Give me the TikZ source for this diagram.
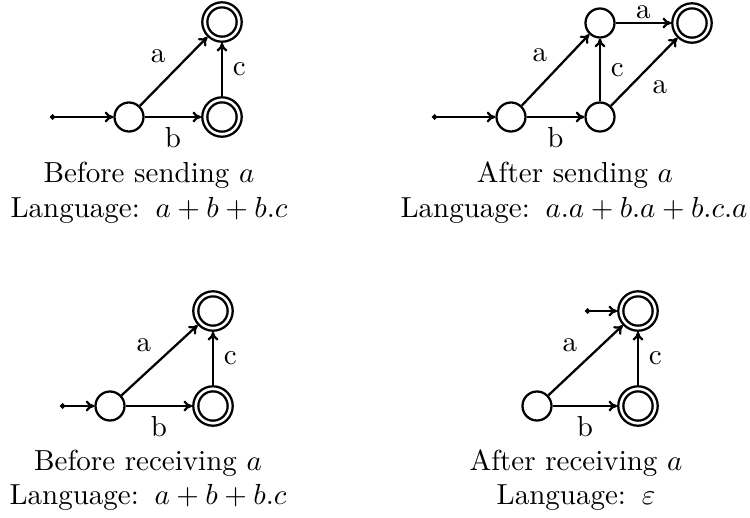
\documentclass[tikz,border=0pt]{standalone}
\usetikzlibrary{arrows.meta}
\begin{document}
\begin{tikzpicture}[x=0.3448pt, y=-0.3448pt,
  st/.style={circle, draw, line width=0.78pt, minimum size=10.0pt, inner sep=0pt},
  acc/.style={circle, draw, line width=0.78pt, minimum size=13.6pt, inner sep=0pt,
    path picture={\draw[line width=0.78pt] (path picture bounding box.center) circle[radius=5.05pt];}},
  tr/.style={line width=0.78pt, -{To[length=3pt,width=3.8pt]}},
  ini/.style={line width=0.78pt, {Circle[length=1.8pt]}-{To[length=3pt,width=3.8pt]}},
  dlab/.style={above left, inner sep=2.5pt},
  captxt/.style={anchor=base}]
\useasboundingbox (0,0) rectangle (750,517);

% top-left: before sending a
\coordinate (s1) at (50,117);
\node[st]  (a0) at (129,117) {};
\node[acc] (a1) at (222,117) {};
\node[acc] (a2) at (222,22) {};
\draw[ini] (s1) -- (a0);
\draw[tr] (a0) -- node[below] {b} (a1);
\draw[tr] (a0) -- node[dlab] {a} (a2);
\draw[tr] (a1) -- node[right] {c} (a2);
\node[captxt] (t1) at (149,182.5) {Before sending $a$};
\node[captxt] (l1) at (149,217) {Language:\hspace{1pt} $a+b+b.c$};

% top-right: after sending a
\coordinate (s2) at (432,117);
\node[st]  (b0) at (511,117) {};
\node[st]  (b1) at (600,117) {};
\node[st]  (b2) at (600,23) {};
\node[acc] (b3) at (692,23) {};
\draw[ini] (s2) -- (b0);
\draw[tr] (b0) -- node[below] {b} (b1);
\draw[tr] (b0) -- node[dlab] {a} (b2);
\draw[tr] (b1) -- node[right] {c} (b2);
\draw[tr] (b2) -- node[above, inner sep=1pt] {a} (b3);
\draw[tr] (b1) -- node[below right, inner sep=2.5pt] {a} (b3);
\node[captxt] (t2) at (575,182.5) {After sending $a$};
\node[captxt] (l2) at (574,217) {Language:\hspace{1pt} $a.a+b.a+b.c.a$};

% bottom-left: before receiving a
\coordinate (s3) at (60,406);
\node[st]  (c0) at (110,406) {};
\node[acc] (c1) at (213,406) {};
\node[acc] (c2) at (213,311) {};
\draw[ini] (s3) -- (c0);
\draw[tr] (c0) -- node[below] {b} (c1);
\draw[tr] (c0) -- node[dlab] {a} (c2);
\draw[tr] (c1) -- node[right] {c} (c2);
\node[captxt] (t3) at (148,470) {Before receiving $a$};
\node[captxt] (l3) at (148,504) {Language:\hspace{1pt} $a+b+b.c$};

% bottom-right: after receiving a
\coordinate (s4) at (585,311);
\node[st]  (d0) at (537,406) {};
\node[acc] (d1) at (638,406) {};
\node[acc] (d2) at (638,311) {};
\draw[ini] (s4) -- (d2);
\draw[tr] (d0) -- node[below] {b} (d1);
\draw[tr] (d0) -- node[dlab] {a} (d2);
\draw[tr] (d1) -- node[right] {c} (d2);
\node[captxt] (t4) at (576,470) {After receiving $a$};
\node[captxt] (l4) at (576,504) {Language:\hspace{1pt} $\varepsilon$};
\end{tikzpicture}
\end{document}
